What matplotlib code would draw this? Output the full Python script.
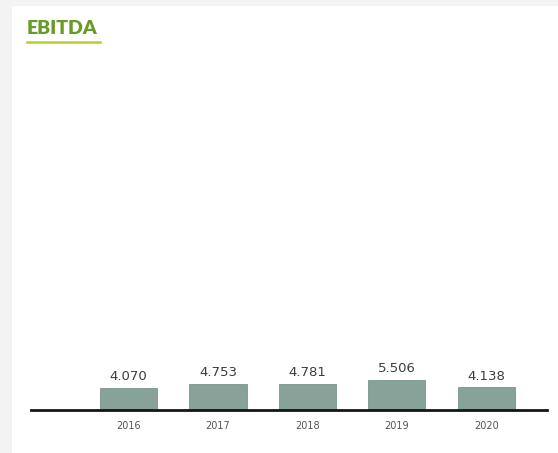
import matplotlib
matplotlib.use("Agg")
import matplotlib.pyplot as plt
from matplotlib.patches import Rectangle
from matplotlib.lines import Line2D

years = ["2016", "2017", "2018", "2019", "2020"]
ebitda = [4070, 4753, 4781, 5506, 4138]
value_labels = ["4.070", "4.753", "4.781", "5.506", "4.138"]

W, H = 558, 453
fig = plt.figure(figsize=(W / 100, H / 100), dpi=100)
fig.patch.set_facecolor("#f2f3f2")

# white panel
fig.patches.append(Rectangle((12 / W, 0), 1 - 12 / W, 1 - 6 / H,
                             transform=fig.transFigure, facecolor="white",
                             edgecolor="none", zorder=-10))

# title
fig.text(27 / W, 1 - 29 / H, "EBITDA", color="#679a26", fontsize=14,
         fontweight="heavy", family="Lato", va="center", ha="left", zorder=5)
fig.lines.append(Line2D([27 / W, 100 / W], [1 - 42 / H, 1 - 42 / H],
                        transform=fig.transFigure, color="#b7cf2c", lw=1.8,
                        zorder=5))

ax_left, ax_right = 31, 547
ax_bottom, ax_top = 410, 60
ax = fig.add_axes([ax_left / W, 1 - ax_bottom / H,
                   (ax_right - ax_left) / W, (ax_bottom - ax_top) / H])
ax.set_facecolor("none")
ax.set_zorder(5)

x = list(range(len(years)))
bars = ax.bar(x, ebitda, width=0.64, color="#86a299", edgecolor="#7a968d",
              linewidth=0.6, zorder=2)

ax.set_xlim(-1.09, 4.68)
ax.set_ylim(0, 64240)

for xi, v, lab in zip(x, ebitda, value_labels):
    ax.text(xi, v + 900, lab, ha="center", va="bottom", fontsize=9.5,
            color="#3d3d3d", family="DejaVu Sans")

for s in ["top", "right", "left"]:
    ax.spines[s].set_visible(False)
ax.spines["bottom"].set_linewidth(2)
ax.spines["bottom"].set_color("#151515")
ax.set_yticks([])
ax.set_xticks(x)
ax.set_xticklabels(years, fontsize=7, color="#555555")
ax.tick_params(axis="x", length=0, pad=8)

fig.savefig("out.png", dpi=100, facecolor=fig.get_facecolor())
